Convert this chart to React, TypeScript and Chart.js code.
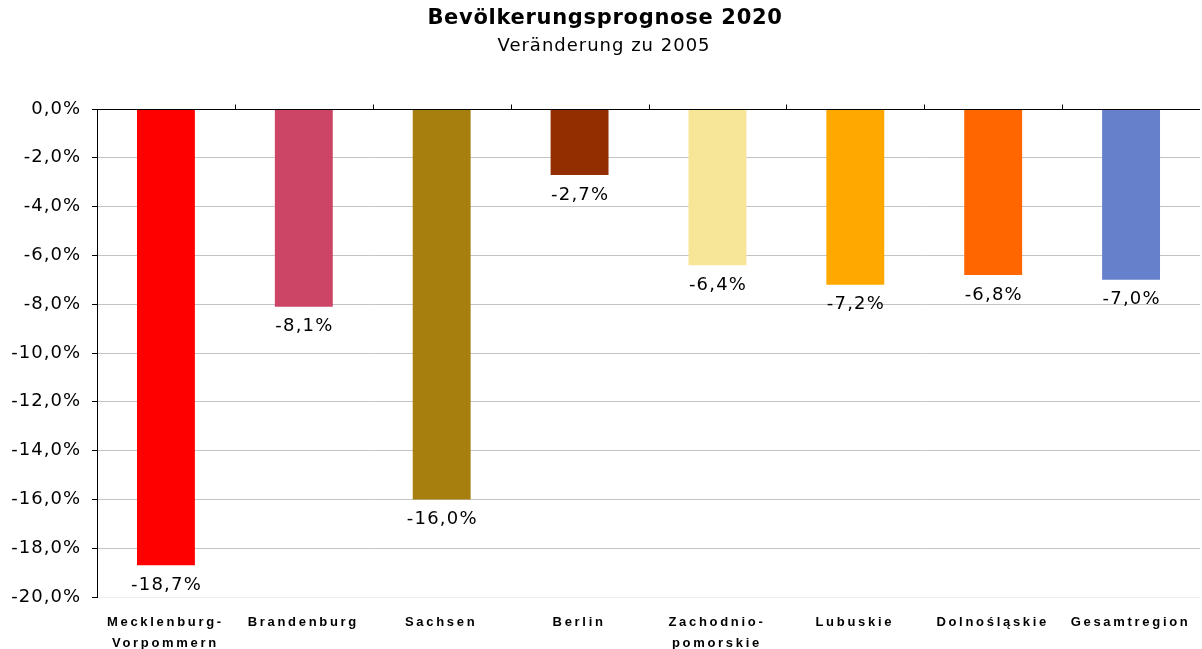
import React, { useEffect, useRef } from "react";
import { Chart, registerables } from "chart.js";

Chart.register(...registerables);

const categories: string[][] = [
  ["Mecklenburg-", "Vorpommern"],
  ["Brandenburg"],
  ["Sachsen"],
  ["Berlin"],
  ["Zachodnio-", "pomorskie"],
  ["Lubuskie"],
  ["Dolnośląskie"],
  ["Gesamtregion"],
];
const values: number[] = [-18.7, -8.1, -16.0, -2.7, -6.4, -7.2, -6.8, -7.0];
const barColors: string[] = [
  "#FF0000",
  "#CC4466",
  "#A67F0E",
  "#922E00",
  "#F8E698",
  "#FFA800",
  "#FF6600",
  "#6680CC",
];
const titleText = "Bevölkerungsprognose 2020";
const subtitleText = "Veränderung zu 2005";

const fmt = (v: number) => v.toFixed(1).replace(".", ",") + "%";

const customPlugin = {
  id: "custom",
  beforeDraw(chart: any) {
    const ctx = chart.ctx;
    ctx.save();
    ctx.fillStyle = "#ffffff";
    ctx.fillRect(0, 0, chart.width, chart.height);
    ctx.restore();
    (ctx as any).letterSpacing = "1px";
  },
  afterDatasetsDraw(chart: any) {
    const ctx = chart.ctx;
    const area = chart.chartArea;
    const xs = chart.scales.x;
    const ys = chart.scales.y;
    ctx.save();
    // zero line with upward tick marks at category boundaries
    const y0 = Math.round(ys.getPixelForValue(0)) + 0.5;
    ctx.strokeStyle = "#000";
    ctx.lineWidth = 1;
    ctx.beginPath();
    ctx.moveTo(area.left, y0);
    ctx.lineTo(area.right, y0);
    for (let i = 1; i < categories.length; i++) {
      const xb = Math.round((xs.getPixelForValue(i - 1) + xs.getPixelForValue(i)) / 2) + 0.5;
      ctx.moveTo(xb, y0);
      ctx.lineTo(xb, y0 - 5);
    }
    ctx.stroke();

    // data labels
    const meta = chart.getDatasetMeta(0);
    ctx.fillStyle = "#000";
    ctx.font = '18px "DejaVu Sans"';
    ctx.textAlign = "center";
    ctx.textBaseline = "middle";
    (ctx as any).letterSpacing = "1.2px";
    meta.data.forEach((bar: any, i: number) => {
      ctx.fillText(fmt(values[i]), bar.x + 0.6, bar.y + 20);
    });

    // category labels
    ctx.font = 'bold 13px "Liberation Sans", Arial, sans-serif';
    (ctx as any).letterSpacing = "2.7px";
    categories.forEach((lines, i) => {
      const x = xs.getPixelForValue(i) - 0.5;
      lines.forEach((ln, j) => {
        ctx.fillText(ln, x, 622 + j * 21);
      });
    });

    // titles
    ctx.font = 'bold 21px "DejaVu Sans"';
    (ctx as any).letterSpacing = "0.7px";
    ctx.fillText(titleText, 605, 19);
    ctx.font = '18px "DejaVu Sans"';
    (ctx as any).letterSpacing = "1px";
    ctx.fillText(subtitleText, 604, 46);
    ctx.restore();
  },
  afterDraw(chart: any) {
    (chart.ctx as any).letterSpacing = "0px";
  },
};

export default function App() {
  const ref = useRef<HTMLCanvasElement | null>(null);
  useEffect(() => {
    if (!ref.current) return;
    const chart = new Chart(ref.current, {
      type: "bar",
      data: {
        labels: categories.map((c) => c.join(" ")),
        datasets: [
          {
            data: values,
            backgroundColor: barColors,
            borderWidth: 0,
            barPercentage: 0.42,
            categoryPercentage: 1,
          },
        ],
      },
      options: {
        animation: false,
        responsive: true,
        maintainAspectRatio: false,
        layout: { padding: { top: 109, right: 2, left: 0, bottom: 0 } },
        plugins: {
          legend: { display: false },
          tooltip: { enabled: false },
          title: { display: false },
        },
        scales: {
          x: {
            position: "bottom",
            grid: { display: false },
            border: { display: false },
            ticks: { display: false },
            afterFit: (s: any) => {
              s.height = 52;
            },
          },
          y: {
            min: -20,
            max: 0,
            ticks: {
              stepSize: 2,
              color: "#000",
              font: { family: "DejaVu Sans", size: 18 },
              padding: 11,
              callback: (v: any) => fmt(Number(v)),
            },
            grid: {
              color: (c: any) =>
                c.tick && c.tick.value === 0
                  ? "#000"
                  : c.tick && c.tick.value === -20
                  ? "#eeeeee"
                  : "#c4c4c4",
              tickColor: "#000",
              tickLength: 5,
              lineWidth: 1,
            },
            border: { display: true, color: "#000", width: 1 },
            afterFit: (s: any) => {
              s.width = 97;
            },
          },
        },
      },
      plugins: [customPlugin],
    });
    return () => chart.destroy();
  }, []);
  return (
    <div style={{ position: "fixed", left: 0, top: 0, width: 1202, height: 649, background: "#fff" }}>
      <canvas ref={ref} />
    </div>
  );
}
